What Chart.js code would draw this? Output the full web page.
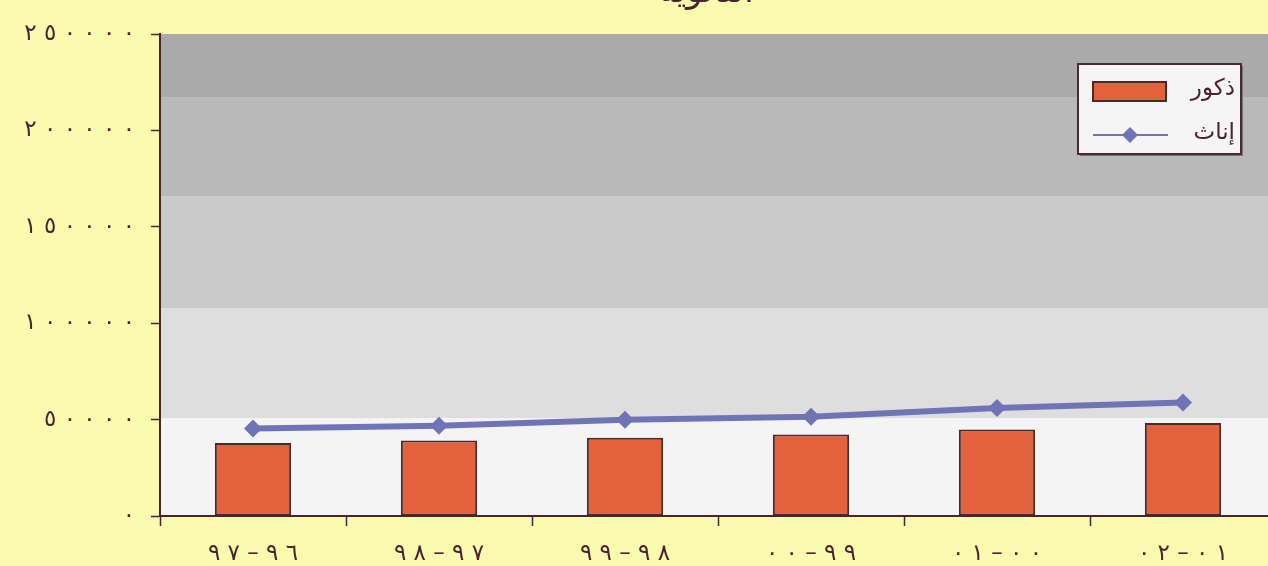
<!DOCTYPE html>
<html lang="ar">
<head>
<meta charset="UTF-8" />
<title>الثانوية</title>
<script src="https://cdn.jsdelivr.net/npm/chart.js@4.4.0/dist/chart.umd.min.js"></script>
<style>
  html, body { margin: 0; padding: 0; background: #fbfbb0; overflow: hidden; }
  #wrap { width: 1290px; height: 566px; }
</style>
</head>
<body>
<div id="wrap"><canvas id="chart"></canvas></div>
<script>
// data
const years = ['٩٦–٩٧', '٩٧–٩٨', '٩٨–٩٩', '٩٩–٠٠', '٠٠–٠١', '٠١–٠٢'];
const males = [37800, 39200, 40600, 42300, 44900, 48200];
const females = [45400, 46800, 49900, 51500, 56000, 58900];
const seriesNames = ['ذكور', 'إناث'];
const title = 'الثانوية';

// background shading of the plot, as value ranges
const bandEdges = [0, 50800, 107900, 166000, 217300, 250000];
const bandColors = ['#f4f4f4', '#dedede', '#cacaca', '#b9b9b9', '#aaaaaa'];

const ink = '#4b2233';
const font = 'DejaVu Sans';

// digits in the picture are set far apart; keep them left-to-right
const LRO = '\u202D', PDF = '\u202C';
function spaced(s) {
  return [...s].join(' ');
}
function arDigits(n) {
  return String(n).replace(/[0-9]/g, d => '٠١٢٣٤٥٦٧٨٩'[d]);
}

const bands = {
  id: 'bands',
  beforeDraw(chart) {
    const { ctx, chartArea, scales } = chart;
    ctx.save();
    for (let i = 0; i < bandColors.length; i++) {
      const y1 = scales.y.getPixelForValue(bandEdges[i]);
      const y2 = scales.y.getPixelForValue(bandEdges[i + 1]);
      ctx.fillStyle = bandColors[i];
      ctx.fillRect(chartArea.left, y2, chartArea.right - chartArea.left, y1 - y2);
    }
    ctx.restore();
  }
};

const extras = {
  id: 'extras',
  afterDraw(chart) {
    const { ctx, chartArea } = chart;
    ctx.save();
    // title, mostly cut off at the top
    ctx.fillStyle = ink;
    ctx.font = '34px "' + font + '"';
    ctx.textAlign = 'center';
    ctx.textBaseline = 'alphabetic';
    ctx.fillText(title, 706, 2);

    // legend box
    const bx = chartArea.right - 198, by = chartArea.top + 30, bw = 163, bh = 90;
    ctx.fillStyle = '#777';
    ctx.fillRect(bx + 2, by + 2, bw, bh);
    ctx.fillStyle = '#f5f5f5';
    ctx.fillRect(bx, by, bw, bh);
    ctx.strokeStyle = '#4a2a35';
    ctx.lineWidth = 2;
    ctx.strokeRect(bx, by, bw, bh);

    ctx.font = '23px "' + font + '"';
    ctx.textAlign = 'right';
    ctx.textBaseline = 'middle';
    ctx.fillStyle = ink;
    ctx.fillText(seriesNames[0], bx + 157, by + 25);
    ctx.fillText(seriesNames[1], bx + 157, by + 69);

    const d0 = chart.data.datasets[0], d1 = chart.data.datasets[1];
    ctx.fillStyle = d0.backgroundColor;
    ctx.fillRect(bx + 15, by + 18, 73, 19);
    ctx.strokeStyle = d0.borderColor;
    ctx.strokeRect(bx + 15, by + 18, 73, 19);

    ctx.strokeStyle = d1.borderColor;
    ctx.lineWidth = 2;
    ctx.beginPath();
    ctx.moveTo(bx + 15, by + 71);
    ctx.lineTo(bx + 90, by + 71);
    ctx.stroke();
    ctx.fillStyle = d1.borderColor;
    ctx.beginPath();
    const cx = bx + 52, cy = by + 71, r = 8;
    ctx.moveTo(cx, cy - r); ctx.lineTo(cx + r, cy); ctx.lineTo(cx, cy + r); ctx.lineTo(cx - r, cy);
    ctx.closePath();
    ctx.fill();
    ctx.restore();
  }
};

new Chart(document.getElementById('chart'), {
  type: 'bar',
  data: {
    labels: years,
    datasets: [
      {
        type: 'bar',
        label: seriesNames[0],
        data: males,
        backgroundColor: '#e3613d',
        borderColor: '#4a2a2a',
        borderWidth: 2,
        borderSkipped: false,
        categoryPercentage: 1,
        barPercentage: 0.41,
        order: 1
      },
      {
        type: 'line',
        label: seriesNames[1],
        data: females,
        borderColor: '#6e74b6',
        backgroundColor: '#6e74b6',
        borderWidth: 6,
        pointStyle: 'rectRot',
        pointRadius: 9,
        pointBorderWidth: 0,
        tension: 0,
        order: 0
      }
    ]
  },
  options: {
    responsive: true,
    maintainAspectRatio: false,
    animation: false,
    layout: { padding: { top: 34, right: 14, left: 0, bottom: 0 } },
    plugins: {
      legend: { display: false },
      tooltip: { enabled: false }
    },
    scales: {
      x: {
        grid: { drawOnChartArea: false, color: ink, tickLength: 10, tickWidth: 1.5 },
        border: { color: ink, width: 2 },
        ticks: {
          color: ink,
          font: { family: font, size: 23 },
          padding: 14,
          callback(value) {
            const parts = this.getLabelForValue(value).split('–').reverse();
            return LRO + parts.map(spaced).join(' – ') + PDF;
          }
        },
        afterFit(s) { s.height = 50; }
      },
      y: {
        min: 0,
        max: 250000,
        grid: { drawOnChartArea: false, color: ink, tickLength: 9, tickWidth: 1.5 },
        border: { color: ink, width: 2 },
        ticks: {
          stepSize: 50000,
          color: ink,
          font: { family: font, size: 23 },
          padding: 16,
          callback: v => LRO + spaced(arDigits(v)) + PDF
        },
        afterFit(s) { s.width = 160; }
      }
    }
  },
  plugins: [bands, extras]
});
</script>
</body>
</html>
